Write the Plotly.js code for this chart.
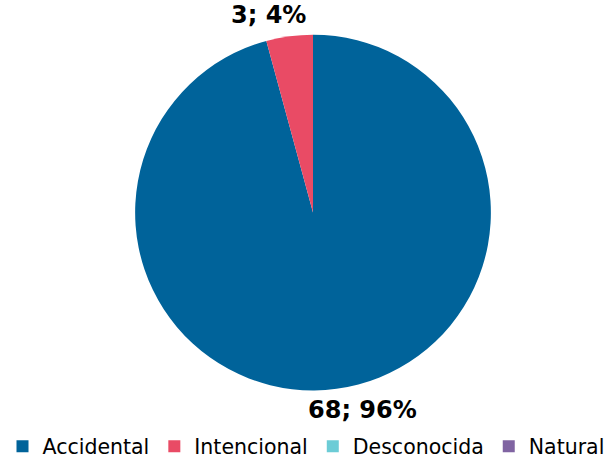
<!DOCTYPE html>
<html><head><meta charset="utf-8">
<script src="https://cdn.plot.ly/plotly-3.0.1.min.js"></script>
<style>html,body{margin:0;padding:0;background:#fff;}</style>
</head><body>
<div id="chart" style="width:612px;height:462px;"></div>
<script>
const categories = ["Accidental", "Intencional", "Desconocida", "Natural"];
const values = [68, 3, 0, 0];
const colors = ["#00639A", "#E94B65", "#6CCCD6", "#8064A2"];

const total = values.reduce((a, b) => a + b, 0);
const labelText = values.map(v => v + "; " + Math.round(100 * v / total) + "%");
// label anchor positions (paper coords) for the non-zero slices
const labelPos = [[0.5923, 0.1115], [0.4387, 0.9675]];

const data = [{
  type: "pie",
  labels: categories,
  values: values,
  sort: false,
  direction: "clockwise",
  rotation: 0,
  marker: {colors: colors, line: {width: 0}},
  textinfo: "none",
  automargin: false,
  hoverinfo: "label+value+percent",
  domain: {x: [0.2206, 0.8023], y: [0.155, 0.925]}
}];

const annotations = [];
values.forEach((v, i) => {
  if (v > 0 && labelPos[i]) {
    annotations.push({
      xref: "paper", yref: "paper",
      x: labelPos[i][0], y: labelPos[i][1],
      xanchor: "center", yanchor: "middle",
      text: labelText[i], showarrow: false,
      font: {family: "DejaVu Sans", size: 24, color: "#000", weight: "bold"}
    });
  }
});

const layout = {
  width: 612, height: 462,
  margin: {l: 0, r: 0, t: 0, b: 0, autoexpand: false},
  paper_bgcolor: "#fff",
  showlegend: true,
  annotations: annotations,
  legend: {
    orientation: "h", x: 0.5, xanchor: "center", y: 0.0335, yanchor: "middle",
    yref: "container", xref: "container",
    font: {family: "DejaVu Sans", size: 20.5, color: "#000"},
    itemwidth: 30, traceorder: "normal"
  },
  font: {family: "DejaVu Sans"}
};

Plotly.newPlot("chart", data, layout, {displayModeBar: false, staticPlot: true});
</script>
</body></html>
